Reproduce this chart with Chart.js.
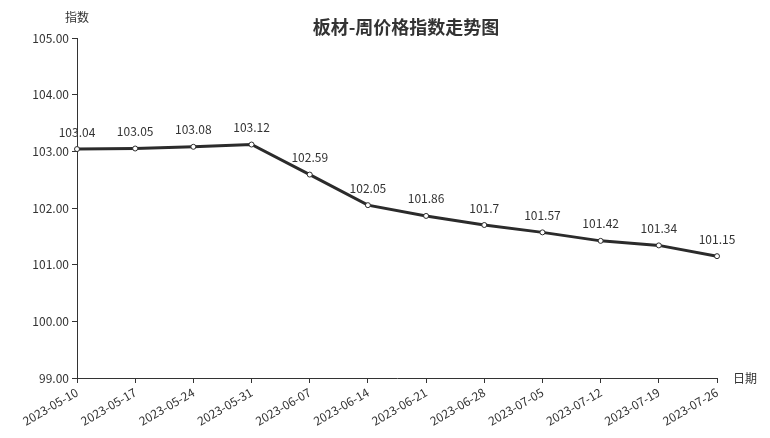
<!DOCTYPE html>
<html>
<head>
<meta charset="utf-8">
<script src="https://cdn.jsdelivr.net/npm/chart.js@4/dist/chart.umd.min.js"></script>
<style>
html,body{margin:0;padding:0;background:#fff;}
canvas{display:block;}
</style>
</head>
<body>
<canvas id="c" width="770" height="438"></canvas>
<script>
const categories = ["2023-05-10","2023-05-17","2023-05-24","2023-05-31","2023-06-07","2023-06-14","2023-06-21","2023-06-28","2023-07-05","2023-07-12","2023-07-19","2023-07-26"];
const indexValues = [103.04,103.05,103.08,103.12,102.59,102.05,101.86,101.7,101.57,101.42,101.34,101.15];
const yTickMin = 99;
const yTickMax = 105;
const titleText = "板材-周价格指数走势图";
const yAxisName = "指数";
const xAxisName = "日期";

const FONT = '"Noto Sans CJK SC", "Noto Sans", sans-serif';
const TEXT = '#333333';

const labelsPlugin = {
  id: 'valueLabels',
  afterDatasetsDraw(chart) {
    const ctx = chart.ctx;
    const meta = chart.getDatasetMeta(0);
    ctx.save();
    ctx.font = '12px ' + FONT;
    ctx.fillStyle = TEXT;
    ctx.textAlign = 'center';
    ctx.textBaseline = 'middle';
    meta.data.forEach((pt, i) => {
      ctx.fillText(String(indexValues[i]), pt.x, pt.y - 17);
    });
    ctx.restore();
  },
  afterDraw(chart) {
    const ctx = chart.ctx;
    const a = chart.chartArea;
    ctx.save();
    ctx.fillStyle = TEXT;
    ctx.textAlign = 'center';
    ctx.textBaseline = 'middle';
    ctx.font = 'bold 18px ' + FONT;
    ctx.fillText(titleText, 406, 27);
    ctx.font = '12px ' + FONT;
    ctx.fillText(yAxisName, a.left, 17);
    ctx.textAlign = 'left';
    ctx.fillText(xAxisName, a.right + 16, a.bottom);
    ctx.restore();
  }
};

new Chart(document.getElementById('c'), {
  type: 'line',
  data: {
    labels: categories,
    datasets: [{
      data: indexValues,
      borderColor: '#2b2b2b',
      borderWidth: 3,
      pointRadius: 2.5,
      pointBorderWidth: 1,
      pointBackgroundColor: '#ffffff',
      pointBorderColor: '#2b2b2b',
      tension: 0,
      fill: false
    }]
  },
  options: {
    responsive: false,
    animation: false,
    devicePixelRatio: 1,
    layout: { padding: { top: 38, right: 53, left: 0, bottom: 0 } },
    plugins: { legend: { display: false }, title: { display: false }, tooltip: { enabled: false } },
    scales: {
      x: {
        type: 'category',
        offset: false,
        afterFit(s) { s.height = 60; },
        grid: { drawOnChartArea: false, drawTicks: true, tickLength: 5, color: '#333' },
        border: { color: '#333', width: 1 },
        ticks: { color: TEXT, font: { family: FONT, size: 12 }, minRotation: 30, maxRotation: 30, autoSkip: false, padding: 2 }
      },
      y: {
        min: yTickMin,
        max: yTickMax,
        afterFit(s) { s.width = 77; },
        grid: { drawOnChartArea: false, drawTicks: true, tickLength: 5, color: '#333' },
        border: { color: '#333', width: 1 },
        ticks: { stepSize: 1, color: TEXT, font: { family: FONT, size: 12 }, padding: 3, callback: v => Number(v).toFixed(2) }
      }
    }
  },
  plugins: [labelsPlugin]
});
</script>
</body>
</html>
